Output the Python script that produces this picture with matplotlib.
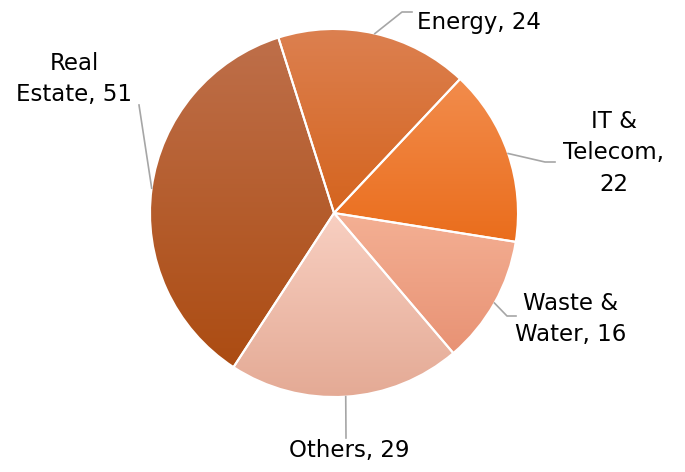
import numpy as np
import matplotlib.pyplot as plt
from matplotlib.colors import LinearSegmentedColormap

# data
sectors = ["Energy", "IT &\nTelecom", "Waste &\nWater", "Others", "Real\nEstate"]
values = [24, 22, 16, 29, 51]
# gradient colours (top, bottom) per wedge
top_colors = ["#DC8050", "#F28C4C", "#F4B094", "#F8CFC1", "#BE6F4A"]
bot_colors = ["#D5641E", "#EA6D1C", "#E89274", "#E4AA95", "#AC4C12"]

W, H = 685, 472
cx, cy, r = 334, H - 213, 184
start = 107.6

fig = plt.figure(figsize=(W / 100, H / 100), dpi=100)
ax = fig.add_axes([0, 0, 1, 1])

wedges, _ = ax.pie(values, startangle=start, counterclock=False, center=(cx, cy), radius=r,
                   wedgeprops=dict(edgecolor="white", linewidth=1.5), frame=True)
ax.set_xlim(0, W)
ax.set_ylim(0, H)
ax.set_aspect("equal")
ax.axis("off")

# vertical gradient fill clipped to each wedge
grad = np.linspace(0, 1, 256).reshape(-1, 1)
for w, c1, c2 in zip(wedges, top_colors, bot_colors):
    bb = w.get_path().get_extents(w.get_patch_transform())
    cmap = LinearSegmentedColormap.from_list("g", [c1, c2])
    im = ax.imshow(grad, cmap=cmap, aspect="auto", origin="upper",
                   extent=(bb.x0, bb.x1, bb.y0, bb.y1), zorder=1)
    im.set_clip_path(w)
    w.set_facecolor("none")
    w.set_zorder(2)

# labels: text position and leader elbow (pixel layout, y from top)
label_pos = [(479, 22), (614, 153), (571, 319), (349, 450), (74, 79)]
seps = [", ", ",\n", ", ", ", ", ", "]
elbows = [[(402, 12), (412, 12)], [(545, 162), (555, 162)], [(507, 316), (516, 316)],
          [(346, 438)], [(139, 105)]]

total = sum(values)
ang = start
for lab, v, sep, pos, elb in zip(sectors, values, seps, label_pos, elbows):
    span = v / total * 360
    mid = np.deg2rad(ang - span / 2)
    ang -= span
    x0, y0 = cx + r * np.cos(mid), cy + r * np.sin(mid)
    xs = [x0] + [p[0] for p in elb]
    ys = [y0] + [H - p[1] for p in elb]
    ax.plot(xs, ys, color="#A6A6A6", lw=1.2, zorder=3)
    ax.text(pos[0], H - pos[1], f"{lab}{sep}{v}", ha="center", va="center",
            fontsize=16.5, linespacing=1.45, color="black")

fig.savefig("out.png", dpi=100)
